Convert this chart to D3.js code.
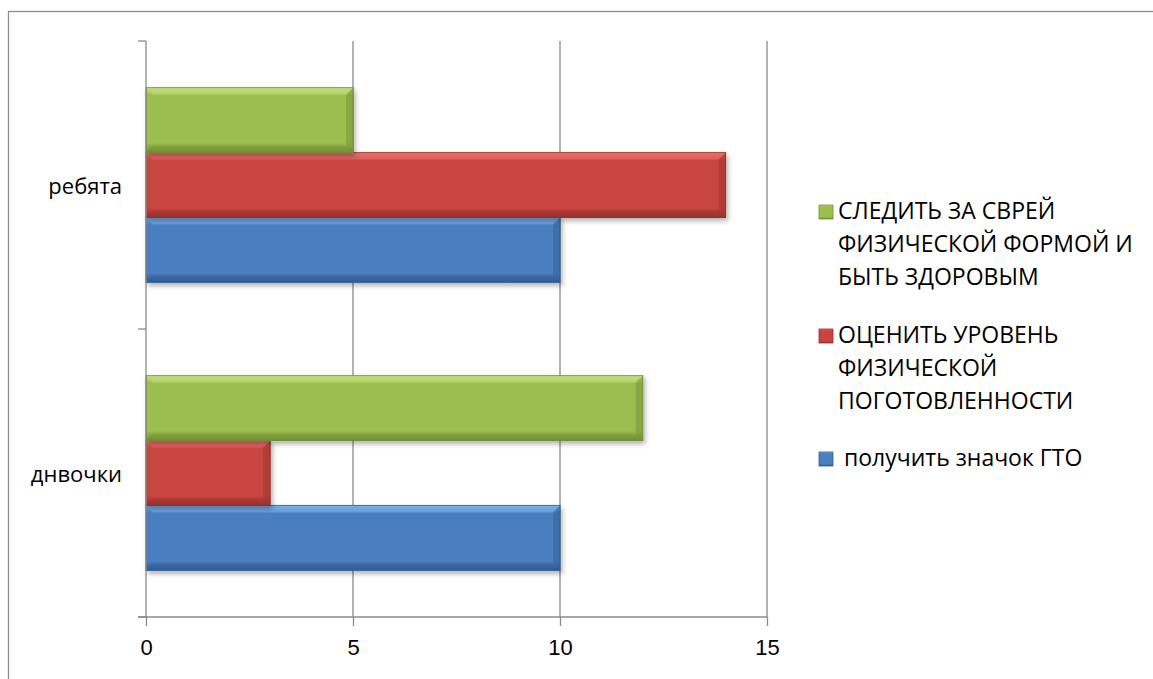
<!DOCTYPE html>
<html>
<head>
<meta charset="utf-8">
<script src="https://cdn.jsdelivr.net/npm/d3@7"></script>
<style>
  body { margin: 0; background: #fff; }
  svg { display: block; font-family: "Open Sans", "Noto Sans", sans-serif; }
</style>
</head>
<body>
<div id="chart"></div>
<script>
// categories, top to bottom
const categories = ["ребята", "днвочки"];

// series, drawn bottom-up inside each category (Excel order)
const seriesNames = [
    "получить значок ГТО",
    "ОЦЕНИТЬ УРОВЕНЬ ФИЗИЧЕСКОЙ ПОГОТОВЛЕННОСТИ",
    "СЛЕДИТЬ ЗА СВРЕЙ ФИЗИЧЕСКОЙ ФОРМОЙ И БЫТЬ ЗДОРОВЫМ"
];
const gtoValues = [10, 10];
const levelValues = [14, 3];
const healthValues = [5, 12];

const xTicks = [0, 5, 10, 15];

// legend lines, top to bottom
const legendLines = [
    ["СЛЕДИТЬ ЗА СВРЕЙ", "ФИЗИЧЕСКОЙ ФОРМОЙ И", "БЫТЬ ЗДОРОВЫМ"],
    ["ОЦЕНИТЬ УРОВЕНЬ", "ФИЗИЧЕСКОЙ", "ПОГОТОВЛЕННОСТИ"],
    [" получить значок ГТО"]
];

const palette = [
    { key: "blue",  light: "#78aee8", mid: "#4a7fc1", dark: "#2f5c94" },
    { key: "red",   light: "#e8706c", mid: "#c9443f", dark: "#98302d" },
    { key: "green", light: "#c2df7a", mid: "#9bbe4f", dark: "#728f35" }
];

const width = 1153, height = 679;
const margin = { top: 41, left: 146, right: 386, bottom: 62 };
const innerW = width - margin.left - margin.right;
const innerH = height - margin.top - margin.bottom;

const svg = d3.select("#chart").append("svg")
    .attr("width", width)
    .attr("height", height);

// gradients + shadow
const defs = svg.append("defs");
palette.forEach(p => {
    const gr = defs.append("linearGradient")
        .attr("id", "grad-" + p.key)
        .attr("x1", 0).attr("y1", 0).attr("x2", 0).attr("y2", 1);
    gr.append("stop").attr("offset", "0%").attr("stop-color", p.light);
    gr.append("stop").attr("offset", "12%").attr("stop-color", p.mid);
    gr.append("stop").attr("offset", "85%").attr("stop-color", p.mid);
    gr.append("stop").attr("offset", "100%").attr("stop-color", p.dark);
});
const shadow = defs.append("filter").attr("id", "shadow")
    .attr("x", "-5%").attr("y", "-10%").attr("width", "115%").attr("height", "140%");
shadow.append("feDropShadow")
    .attr("dx", 2).attr("dy", 3).attr("stdDeviation", 2.5)
    .attr("flood-color", "#000").attr("flood-opacity", 0.3);

// outer frame (clipped by window on right/bottom)
svg.append("rect")
    .attr("x", 8.5).attr("y", 11.5)
    .attr("width", width).attr("height", height)
    .attr("fill", "none")
    .attr("stroke", "#8c8c8c")
    .attr("stroke-width", 1.3);

const g = svg.append("g").attr("transform", `translate(${margin.left},${margin.top})`);

// scales
const x = d3.scaleLinear().domain([0, 15]).range([0, innerW]);
const y0 = d3.scaleBand().domain(categories).range([0, innerH]).padding(0);
const y1 = d3.scaleBand()
    .domain(d3.range(seriesNames.length).reverse())
    .range([0, y0.bandwidth()])
    .paddingInner(0)
    .paddingOuter(0.72);

// vertical gridlines
g.selectAll(".grid")
    .data(xTicks.slice(1))
    .join("line")
    .attr("x1", d => x(d)).attr("x2", d => x(d))
    .attr("y1", 0).attr("y2", innerH)
    .attr("stroke", "#8a8a8a")
    .attr("stroke-width", 1.3);

// bars
const seriesValues = [gtoValues, levelValues, healthValues];
const barData = [];
categories.forEach((c, ci) => {
    seriesValues.forEach((vals, si) => {
        barData.push({ cat: c, s: si, v: vals[ci] });
    });
});

const bars = g.selectAll(".bar")
    .data(barData)
    .join("g")
    .attr("class", "bar")
    .attr("transform", d => `translate(0,${y0(d.cat) + y1(d.s)})`);

bars.append("rect")
    .attr("width", d => x(d.v))
    .attr("height", y1.bandwidth())
    .attr("fill", d => `url(#grad-${palette[d.s].key})`)
    .attr("stroke", d => palette[d.s].dark)
    .attr("stroke-width", 1)
    .attr("filter", "url(#shadow)");

// bevel on right edge
bars.append("path")
    .attr("d", d => {
        const w = x(d.v), h = y1.bandwidth(), b = 7;
        return `M${w},0 L${w},${h} L${w - b},${h - b} L${w - b},${b} Z`;
    })
    .attr("fill", d => palette[d.s].dark)
    .attr("opacity", 0.45);
// bevel on top edge
bars.append("path")
    .attr("d", d => {
        const w = x(d.v), b = 7;
        return `M0,0 L${w},0 L${w - b},${b} L${b},${b} Z`;
    })
    .attr("fill", d => palette[d.s].light)
    .attr("opacity", 0.55);
// bevel on bottom edge
bars.append("path")
    .attr("d", d => {
        const w = x(d.v), h = y1.bandwidth(), b = 7;
        return `M0,${h} L${w},${h} L${w - b},${h - b} L${b},${h - b} Z`;
    })
    .attr("fill", d => palette[d.s].dark)
    .attr("opacity", 0.35);

// x axis
const xAxis = g.append("g")
    .attr("transform", `translate(0,${innerH})`)
    .call(d3.axisBottom(x).tickValues(xTicks).tickSize(9).tickPadding(13).tickSizeOuter(0));
xAxis.select(".domain").remove();
xAxis.append("line")
    .attr("x1", -8).attr("x2", x(15))
    .attr("stroke", "#8a8a8a").attr("stroke-width", 1.3);
xAxis.selectAll(".tick line").attr("stroke", "#8a8a8a").attr("stroke-width", 1.3);
xAxis.selectAll(".tick text")
    .attr("fill", "#000")
    .style("font-size", "22px");

// y axis: ticks on category boundaries, labels centered
const yAxis = g.append("g");
yAxis.append("line")
    .attr("x1", 0).attr("x2", 0).attr("y1", 0).attr("y2", innerH)
    .attr("stroke", "#8a8a8a").attr("stroke-width", 1.3);
yAxis.selectAll(".ytick")
    .data([0, ...categories.map(c => y0(c) + y0.bandwidth())])
    .join("line")
    .attr("x1", -8).attr("x2", 0)
    .attr("y1", d => d).attr("y2", d => d)
    .attr("stroke", "#8a8a8a").attr("stroke-width", 1.3);
yAxis.selectAll(".ylab")
    .data(categories)
    .join("text")
    .attr("x", -24)
    .attr("y", d => y0(d) + y0.bandwidth() / 2 + 3)
    .attr("text-anchor", "end")
    .attr("dominant-baseline", "middle")
    .attr("fill", "#000")
    .style("font-size", "22px")
    .text(d => d);

// legend
const legendBase = [219, 343, 466];
const legendColors = [2, 1, 0];
const legend = svg.append("g");
legendLines.forEach((lines, i) => {
    const p = palette[legendColors[i]];
    legend.append("rect")
        .attr("x", 819).attr("y", legendBase[i] - 14)
        .attr("width", 14).attr("height", 14)
        .attr("fill", `url(#grad-${p.key})`)
        .attr("stroke", p.dark).attr("stroke-width", 0.8);
    lines.forEach((t, j) => {
        legend.append("text")
            .attr("x", 838)
            .attr("y", legendBase[i] + j * 33)
            .attr("fill", "#000")
            .style("font-size", "23px")
            .style("white-space", "pre")
            .text(t);
    });
});
</script>
</body>
</html>
